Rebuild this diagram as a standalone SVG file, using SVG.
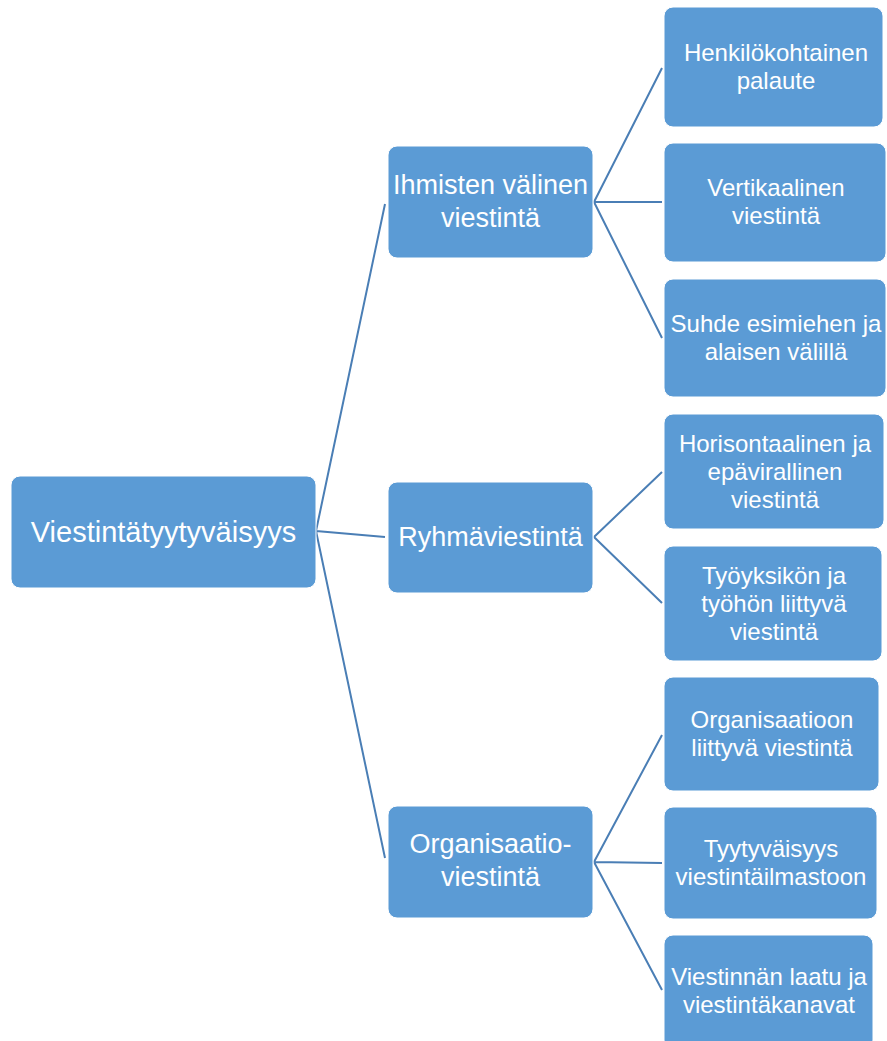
<svg xmlns="http://www.w3.org/2000/svg" width="887" height="1041" viewBox="0 0 887 1041">
<style>
.box{fill:#5B9BD5;stroke:#ffffff;stroke-width:1}
.t{fill:#ffffff;font-family:"Liberation Sans",Arial,sans-serif;text-anchor:middle}
.root{font-size:29px}
.mid{font-size:27px}
.leaf{font-size:24px}
.conn{stroke:#4A7EB5;stroke-width:2;fill:none}
</style>
<rect width="887" height="1041" fill="#ffffff"/>
<g id="connectors">
<path class="conn" d="M316,531 L385,204 M316,531 L385,537 M316,531 L385,858"/>
<path class="conn" d="M594,202 L662,68 M594,202 L662,202 M594,202 L662,338"/>
<path class="conn" d="M594,537 L662,472 M594,537 L662,603"/>
<path class="conn" d="M594,862 L662,735 M594,862 L662,863 M594,862 L662,990"/>
</g>
<g id="root">
<rect class="box" x="11" y="476" width="305" height="112" rx="9"/>
<text class="t root" x="163.5" y="542">Viestintätyytyväisyys</text>
</g>
<g id="ihmisten">
<rect class="box" x="388" y="146" width="205" height="112" rx="9"/>
<text class="t mid" x="490.5" y="194">Ihmisten välinen</text>
<text class="t mid" x="490.5" y="227">viestintä</text>
</g>
<g id="ryhma">
<rect class="box" x="388" y="482" width="205" height="111" rx="9"/>
<text class="t mid" x="490.5" y="546">Ryhmäviestintä</text>
</g>
<g id="organisaatio">
<rect class="box" x="388" y="806" width="205" height="112" rx="9"/>
<text class="t mid" x="490.5" y="853">Organisaatio-</text>
<text class="t mid" x="490.5" y="886">viestintä</text>
</g>
<g id="henkilokohtainen">
<rect class="box" x="664" y="7" width="219" height="120" rx="9"/>
<text class="t leaf" x="776" y="61">Henkilökohtainen</text>
<text class="t leaf" x="776" y="89">palaute</text>
</g>
<g id="vertikaalinen">
<rect class="box" x="664" y="143" width="222" height="119" rx="9"/>
<text class="t leaf" x="776" y="196">Vertikaalinen</text>
<text class="t leaf" x="776" y="224">viestintä</text>
</g>
<g id="suhde">
<rect class="box" x="664" y="279" width="222" height="118" rx="9"/>
<text class="t leaf" x="776" y="332">Suhde esimiehen ja</text>
<text class="t leaf" x="776" y="360">alaisen välillä</text>
</g>
<g id="horisontaalinen">
<rect class="box" x="664" y="414" width="220" height="115" rx="9"/>
<text class="t leaf" x="775" y="452">Horisontaalinen ja</text>
<text class="t leaf" x="775" y="480">epävirallinen</text>
<text class="t leaf" x="775" y="508">viestintä</text>
</g>
<g id="tyoyksikon">
<rect class="box" x="664" y="546" width="218" height="115" rx="9"/>
<text class="t leaf" x="774" y="583.5">Työyksikön ja</text>
<text class="t leaf" x="774" y="611.5">työhön liittyvä</text>
<text class="t leaf" x="774" y="639.5">viestintä</text>
</g>
<g id="organisaatioon">
<rect class="box" x="664" y="677" width="215" height="114" rx="9"/>
<text class="t leaf" x="772" y="728">Organisaatioon</text>
<text class="t leaf" x="772" y="756">liittyvä viestintä</text>
</g>
<g id="tyytyvaisyys">
<rect class="box" x="664" y="807" width="213" height="112" rx="9"/>
<text class="t leaf" x="771" y="857">Tyytyväisyys</text>
<text class="t leaf" x="771" y="885">viestintäilmastoon</text>
</g>
<g id="laatu">
<rect class="box" x="664" y="935" width="209" height="114" rx="9"/>
<text class="t leaf" x="769" y="985">Viestinnän laatu ja</text>
<text class="t leaf" x="769" y="1013">viestintäkanavat</text>
</g>
</svg>
